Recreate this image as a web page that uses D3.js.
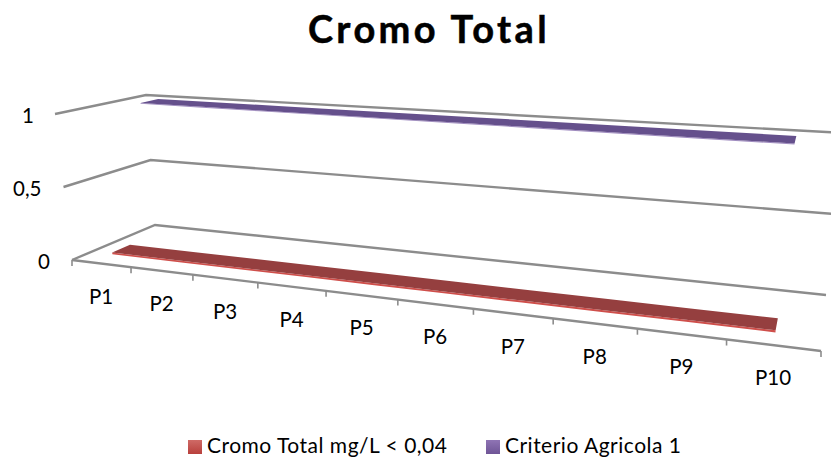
<!DOCTYPE html>
<html><head><meta charset="utf-8">
<script src="https://cdn.jsdelivr.net/npm/d3@7"></script>
<style>html,body{margin:0;background:#fff}svg{display:block}text{font-family:Lato,"Open Sans",sans-serif;fill:#000}</style>
</head><body><svg id="c" width="831" height="459"></svg>
<script>
const categories=["P1","P2","P3","P4","P5","P6","P7","P8","P9","P10"];
const cromoValues=[0.01,0.01,0.01,0.01,0.01,0.01,0.01,0.01,0.01,0.01];
const criterioValues=[1,1,1,1,1,1,1,1,1,1];
const valueTicks=[0,0.5,1];
const valueLabels=["0","0,5","1"];
const legendNames=["Cromo Total mg/L < 0,04","Criterio Agricola 1"];

const svg=d3.select("#c");
// perspective scene: floor corners and wall height vectors
const FL=[72,260],FR=[821,351],BL=[155,225],BR=[826,295];
const hFL=[-17,-146],hFR=[20,-178],hBL=[-9,-130],hBR=[18,-162];
const lerp=(a,b,t)=>[a[0]+(b[0]-a[0])*t,a[1]+(b[1]-a[1])*t];
const persp=c=>c/(1-0.023*c);
const uScale=d3.scaleLinear().domain([0,persp(categories.length)]).range([0,1]);
const yValue=d3.scaleLinear().domain([0,1]).range([0,1]);
function project(c,d,v){
  const u=uScale(persp(c));
  const f=lerp(lerp(FL,FR,u),lerp(BL,BR,u),d);
  const h=lerp(lerp(hFL,hFR,u),lerp(hBL,hBR,u),d);
  const t=yValue(v);
  return [f[0]+h[0]*t,f[1]+h[1]*t];
}
const line=d3.line();
const axisCol="#8c8c8c";
// walls / gridlines
valueTicks.forEach(v=>{
  svg.append("path").attr("d",line([project(0,0,v),project(0,1,v),project(categories.length,1,v)]))
    .attr("fill","none").attr("stroke",axisCol).attr("stroke-width",2.4);
});
// category axis
svg.append("path").attr("d",line([project(0,0,0),project(categories.length,0,0)]))
  .attr("fill","none").attr("stroke",axisCol).attr("stroke-width",2.4);
d3.range(categories.length+1).forEach(c=>{
  const p=project(c,0,0);
  svg.append("line").attr("x1",p[0]).attr("y1",p[1]).attr("x2",p[0]).attr("y2",p[1]+6)
    .attr("stroke",axisCol).attr("stroke-width",1.6);
});
categories.forEach((n,i)=>{
  const p=project(i+0.5,0,0);
  svg.append("text").attr("x",p[0]).attr("y",p[1]+40).attr("text-anchor","middle")
    .attr("font-size",20.5).text(n);
});
valueTicks.forEach((v,i)=>{
  const p=project(0,0,v);
  svg.append("text").attr("x",p[0]-22+(v===1?1:0)).attr("y",p[1]+9).attr("text-anchor","end")
    .attr("font-size",20.5).text(valueLabels[i]);
});
// ribbons
const bands=[
 {vals:cromoValues,d0:0.24,d1:0.46,s:-0.14,e:0,top:"#953f3f",front:"#cf4f4b",th:0.012},
 {vals:criterioValues,d0:0.66,d1:0.86,s:-0.05,e:-0.02,top:"#65508c",front:"#a08cc0",th:0.006}
];
bands.forEach(b=>{
  const cs=b.vals.map((_,i)=>i+0.5+(i===0?b.s:0)+(i===b.vals.length-1?b.e:0));
  const fr=cs.map((c,i)=>project(c,b.d0,b.vals[i]));
  const bk=cs.map((c,i)=>project(c,b.d1,b.vals[i]));
  const lo=cs.map((c,i)=>project(c,b.d0,b.vals[i]-b.th));
  svg.append("path").attr("d",line(fr.concat(lo.slice().reverse()))+"Z").attr("fill",b.front);
  svg.append("path").attr("d",line(fr.concat(bk.slice().reverse()))+"Z").attr("fill",b.top);
});
// title
svg.append("text").attr("x",429).attr("y",43).attr("text-anchor","middle")
  .attr("font-size",38).attr("font-weight",700).attr("letter-spacing",3.4)
  .attr("stroke","#000").attr("stroke-width",0.5).text("Cromo Total");
// legend
const defs=svg.append("defs");
[["gr","#cf6a66","#b8403c"],["gp","#8f74b4","#6f5596"]].forEach(g=>{
  const lg=defs.append("linearGradient").attr("id",g[0]).attr("x1",0).attr("y1",0).attr("x2",0).attr("y2",1);
  lg.append("stop").attr("offset",0).attr("stop-color",g[1]);
  lg.append("stop").attr("offset",1).attr("stop-color",g[2]);
});
[[188,207,"gr"],[486,505,"gp"]].forEach((l,i)=>{
  svg.append("rect").attr("x",l[0]).attr("y",440).attr("width",14).attr("height",14).attr("fill",`url(#${l[2]})`);
  svg.append("text").attr("x",l[1]).attr("y",453).attr("font-size",21).attr("letter-spacing",0.5).text(legendNames[i]);
});
</script></body></html>
